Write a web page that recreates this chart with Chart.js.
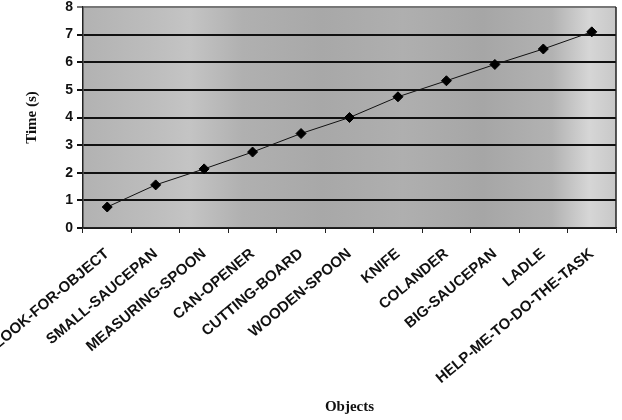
<!DOCTYPE html>
<html>
<head>
<meta charset="utf-8">
<script src="https://cdn.jsdelivr.net/npm/chart.js@4/dist/chart.umd.min.js"></script>
<style>
  html, body { margin: 0; padding: 0; background: #fff; }
  #wrap { width: 622px; height: 420px; }
</style>
</head>
<body>
<div id="wrap"><canvas id="chart" width="622" height="420"></canvas></div>
<script>
// data
const objects = ['LOOK-FOR-OBJECT', 'SMALL-SAUCEPAN', 'MEASURING-SPOON', 'CAN-OPENER',
  'CUTTING-BOARD', 'WOODEN-SPOON', 'KNIFE', 'COLANDER', 'BIG-SAUCEPAN', 'LADLE',
  'HELP-ME-TO-DO-THE-TASK'];
const times = [0.76, 1.56, 2.14, 2.75, 3.42, 4.0, 4.75, 5.33, 5.92, 6.48, 7.1];
const yTicks = [0, 1, 2, 3, 4, 5, 6, 7, 8];

// grey plot background with some lighter/darker bands, like the scanned original
const plotBg = {
  id: 'plotBg',
  beforeDraw(chart) {
    const { ctx, chartArea: a } = chart;
    const g = ctx.createLinearGradient(a.left, 0, a.right, 0);
    g.addColorStop(0, '#b2b2b2');
    g.addColorStop(0.12, '#bcbcbc');
    g.addColorStop(0.2, '#c4c4c4');
    g.addColorStop(0.3, '#b0b0b0');
    g.addColorStop(0.45, '#a8a8a8');
    g.addColorStop(0.6, '#afafaf');
    g.addColorStop(0.75, '#a6a6a6');
    g.addColorStop(0.88, '#b2b2b2');
    g.addColorStop(0.95, '#d6d6d6');
    g.addColorStop(1, '#c8c8c8');
    ctx.save();
    ctx.fillStyle = g;
    ctx.fillRect(a.left, a.top, a.right - a.left, a.bottom - a.top);
    ctx.restore();
  },
  afterDatasetsDraw(chart) {
    const { ctx, chartArea: a } = chart;
    ctx.save();
    ctx.strokeStyle = '#222';
    ctx.lineWidth = 1.5;
    ctx.beginPath();
    ctx.moveTo(a.right, a.top);
    ctx.lineTo(a.right, a.bottom);
    ctx.stroke();
    ctx.restore();
  }
};

new Chart(document.getElementById('chart'), {
  type: 'line',
  data: {
    labels: objects,
    datasets: [{
      data: times,
      borderColor: '#111',
      borderWidth: 1,
      backgroundColor: '#000',
      pointStyle: 'rectRot',
      pointRadius: 5,
      pointBorderColor: '#000',
      tension: 0,
      fill: false
    }]
  },
  options: {
    responsive: false,
    animation: false,
    layout: { padding: { top: 7, right: 5, left: 0, bottom: 0 } },
    plugins: { legend: { display: false }, tooltip: { enabled: false } },
    scales: {
      x: {
        offset: true,
        grid: { offset: true, drawOnChartArea: false, drawTicks: true, tickLength: 5, color: '#222' },
        border: { color: '#222', width: 1.5 },
        ticks: {
          color: '#111',
          font: { family: 'Arial, "Liberation Sans"', size: 15, weight: 'bold' },
          minRotation: 40, maxRotation: 40, autoSkip: false, padding: 12
        },
        title: {
          display: true, text: 'Objects', color: '#111',
          font: { family: '"Times New Roman", "Liberation Serif"', size: 15, weight: 'bold' },
          padding: { top: 4, bottom: 4 }
        },
        afterFit(scale) { scale.paddingLeft = 0; scale.paddingRight = 0; scale.height = 192; }
      },
      y: {
        min: 0, max: 8,
        afterBuildTicks(scale) { scale.ticks = yTicks.map(v => ({ value: v })); },
        grid: { color: ctx => ctx.tick && ctx.tick.value === 8 ? '#777' : '#111', lineWidth: 2, tickLength: 6 },
        border: { color: '#222', width: 1.5 },
        ticks: {
          color: '#111', padding: 4,
          font: { family: 'Arial, "Liberation Sans"', size: 14, weight: 'bold' }
        },
        title: {
          display: true, text: 'Time (s)', color: '#111',
          font: { family: '"Times New Roman", "Liberation Serif"', size: 15, weight: 'bold' },
          padding: { top: 23, bottom: 0 }
        },
        afterFit(scale) { scale.width = 83; scale.paddingTop = 0; scale.paddingBottom = 0; }
      }
    }
  },
  plugins: [plotBg]
});
</script>
</body>
</html>
